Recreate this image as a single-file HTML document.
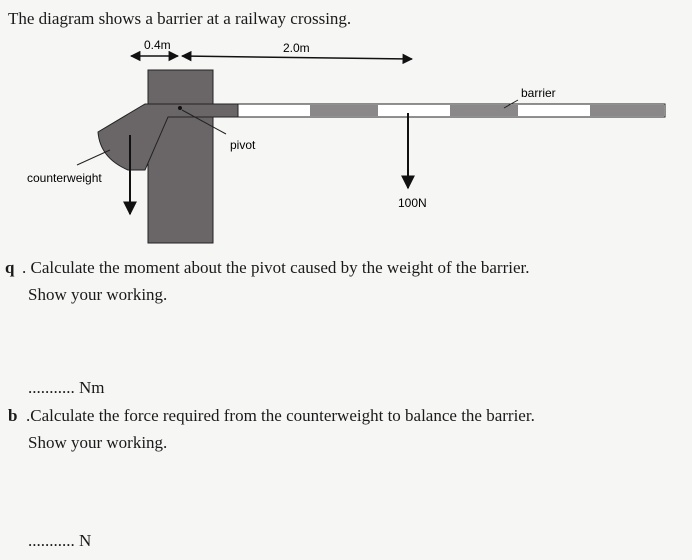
<!DOCTYPE html>
<html><head><style>
html,body{margin:0;padding:0;background:#f6f6f4;}
body{width:692px;height:560px;position:relative;overflow:hidden;font-family:"Liberation Serif",serif;color:#1a1a1a;}
.t{position:absolute;font-size:17px;white-space:nowrap;}
</style></head><body>
<svg width="692" height="560" style="position:absolute;left:0;top:0" font-family="Liberation Sans, sans-serif">
<defs><marker id="a" viewBox="0 0 10 10" refX="9" refY="5" markerWidth="7" markerHeight="7" orient="auto-start-reverse"><path d="M0,0L10,5L0,10z" fill="#111"/></marker></defs>
<rect x="148" y="70" width="65" height="173" fill="#6a6668" stroke="#222"/>
<path d="M145,104 L238,104 L238,117 L168,117 L145,170 L128,170 Q100,158 98,132 Z" fill="#6a6668" stroke="#222"/>
<rect x="238" y="104" width="427" height="13" fill="#fff" stroke="#222"/>
<rect x="310" y="105" width="68" height="11" fill="#8a8888"/>
<rect x="450" y="105" width="68" height="11" fill="#8a8888"/>
<rect x="590" y="105" width="74" height="11" fill="#8a8888"/>
<circle cx="180" cy="108" r="2" fill="#111"/>
<line x1="182" y1="110" x2="226" y2="134" stroke="#222"/>
<line x1="77" y1="165" x2="110" y2="150" stroke="#222"/>
<line x1="518" y1="100" x2="504" y2="108" stroke="#222"/>
<line x1="131" y1="56" x2="178" y2="56" stroke="#111" stroke-width="1.5" marker-start="url(#a)" marker-end="url(#a)"/>
<line x1="182" y1="56" x2="412" y2="59" stroke="#111" stroke-width="1.5" marker-start="url(#a)" marker-end="url(#a)"/>
<line x1="130" y1="135" x2="130" y2="214" stroke="#111" stroke-width="2" marker-end="url(#a)"/>
<line x1="408" y1="113" x2="408" y2="188" stroke="#111" stroke-width="2" marker-end="url(#a)"/>
<text x="144" y="49" font-size="12">0.4m</text>
<text x="283" y="52" font-size="12">2.0m</text>
<text x="230" y="149" font-size="12">pivot</text>
<text x="521" y="97" font-size="12">barrier</text>
<text x="27" y="182" font-size="12">counterweight</text>
<text x="398" y="207" font-size="12">100N</text>
</svg>
<div class="t" style="left:8px;top:9px;">The diagram shows a barrier at a railway crossing.</div>
<div class="t" style="left:5px;top:258px;font-weight:bold;">q</div>
<div class="t" style="left:22px;top:258px;">. Calculate the moment about the pivot caused by the weight of the barrier.</div>
<div class="t" style="left:28px;top:285px;">Show your working.</div>
<div class="t" style="left:28px;top:378px;">........... Nm</div>
<div class="t" style="left:8px;top:406px;font-weight:bold;">b</div>
<div class="t" style="left:26px;top:406px;">.Calculate the force required from the counterweight to balance the barrier.</div>
<div class="t" style="left:28px;top:433px;">Show your working.</div>
<div class="t" style="left:28px;top:531px;">........... N</div>
</body></html>
